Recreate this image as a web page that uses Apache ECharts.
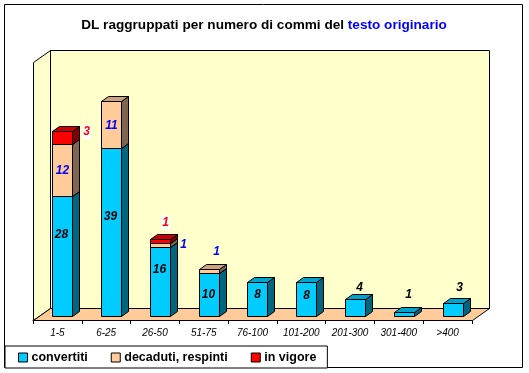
<!DOCTYPE html>
<html>
<head>
<meta charset="utf-8">
<script src="https://cdn.jsdelivr.net/npm/echarts@6/dist/echarts.min.js"></script>
<style>html,body{margin:0;padding:0;background:#fff}#chart{width:529px;height:373px}</style>
</head>
<body>
<div id="chart"></div>
<script>
// data
var categories = ['1-5', '6-25', '26-50', '51-75', '76-100', '101-200', '201-300', '301-400', '>400'];
var convertiti = [28, 39, 16, 10, 8, 8, 4, 1, 3];
var decaduti = [12, 11, 1, 1, 0, 0, 0, 0, 0];
var vigore = [3, 0, 1, 0, 0, 0, 0, 0, 0];

var myChart = echarts.init(document.getElementById('chart'));

// fake 3d: depth of the room and of each bar, in px
var roomDx = 17, roomDy = 12;
var barDx = 7, barDy = 5;
var barShiftX = 5, barShiftY = 4;

var shades = {
  convertiti: {front: '#00ccff', side: '#006680', top: '#00a3cc', label: '#000'},
  decaduti: {front: '#ffcc99', side: '#806650', top: '#cca37a', label: '#0000ff'},
  vigore: {front: '#ff0000', side: '#800000', top: '#cc0000', label: '#ff0000'}
};

// where excel left the labels, offset from the middle of the segment
var labelNudge = {
  convertiti: {0: [-1, -22], 1: [-1, -16], 2: [-1, -12], 3: [-1, 0], 4: [0, -5], 5: [0, -4], 6: [4, -20], 7: [4, -20], 8: [6, -22]},
  decaduti: {0: [0, 0], 1: [0, 1], 2: [23, -1], 3: [7, -20]},
  vigore: {0: [24, -6], 2: [5, -19]}
};

function roomItem(params, api) {
  var c = params.coordSys;
  var left = c.x + 0.5, right = c.x + c.width + 0.5, top = c.y + 0.5, bottom = c.y + c.height + 0.5;
  function poly(points, fill) {
    return {type: 'polygon', shape: {points: points}, style: {fill: fill, stroke: '#000', lineWidth: 1}};
  }
  return {
    type: 'group',
    children: [
      poly([[left + roomDx, top - roomDy], [right + roomDx, top - roomDy], [right + roomDx, bottom - roomDy], [left + roomDx, bottom - roomDy]], '#ffffcc'),
      poly([[left, top], [left + roomDx, top - roomDy], [left + roomDx, bottom - roomDy], [left, bottom]], '#ffffcc'),
      poly([[left, bottom], [left + roomDx, bottom - roomDy], [right + roomDx, bottom - roomDy], [right, bottom]], '#ffcc99')
    ]
  };
}

function makeBarItem(key) {
  var col = shades[key];
  return function (params, api) {
    var idx = api.value(0);
    var from = api.value(1), to = api.value(2);
    var low = api.coord([idx, from]);
    var high = api.coord([idx, to]);
    var w = 20;
    var x0 = Math.round(low[0] - w / 2 + barShiftX) + 0.5;
    var x1 = x0 + w;
    var yb = Math.round(low[1] - barShiftY) + 0.5;
    var yt = Math.round(high[1] - barShiftY) + 0.5;
    var kids = [
      {type: 'polygon', shape: {points: [[x1, yb], [x1 + barDx, yb - barDy], [x1 + barDx, yt - barDy], [x1, yt]]},
        style: {fill: col.side, stroke: '#000', lineWidth: 1}},
      {type: 'polygon', shape: {points: [[x0, yt], [x0 + barDx, yt - barDy], [x1 + barDx, yt - barDy], [x1, yt]]},
        style: {fill: col.top, stroke: '#000', lineWidth: 1}},
      {type: 'rect', shape: {x: x0, y: yt, width: w, height: yb - yt},
        style: {fill: col.front, stroke: '#000', lineWidth: 1}}
    ];
    var nudge = labelNudge[key][idx] || [0, 0];
    var outside = key === 'vigore';
    kids.push({
      type: 'text',
      z2: 50,
      x: (x0 + x1) / 2 + nudge[0],
      y: (yt + yb) / 2 + nudge[1],
      style: {
        text: String(to - from),
        fill: col.label,
        font: 'italic bold 12px "Liberation Sans", Arial, sans-serif',
        align: 'center',
        verticalAlign: 'middle',
        backgroundColor: outside ? '#fff' : 'transparent',
        padding: outside ? [1, 1] : 0
      }
    });
    return {type: 'group', children: kids};
  };
}

function segments(values, below) {
  var out = [];
  values.forEach(function (v, i) {
    if (v > 0) {
      var base = below.reduce(function (s, arr) { return s + arr[i]; }, 0);
      out.push([i, base, base + v]);
    }
  });
  return out;
}

var option = {
  animation: false,
  backgroundColor: '#fff',
  graphic: [{
    type: 'rect', z: -10, silent: true,
    shape: {x: 4.5, y: 4.5, width: 518, height: 363},
    style: {fill: '#fff', stroke: '#000', lineWidth: 1}
  }],
  title: {
    left: 259,
    top: 13,
    textAlign: 'center',
    text: '{a|DL raggruppati per numero di commi del }{b|testo originario}',
    textStyle: {
      rich: {
        a: {fontFamily: 'Liberation Sans', fontWeight: 'bold', fontSize: 13.6, color: '#000'},
        b: {fontFamily: 'Liberation Sans', fontWeight: 'bold', fontSize: 13.6, color: '#0000ff'}
      }
    }
  },
  legend: {
    left: 5,
    top: 346,
    padding: [5, 11, 4, 13],
    itemGap: 23,
    itemWidth: 9,
    itemHeight: 9,
    icon: 'rect',
    backgroundColor: '#fff',
    borderColor: '#000',
    borderWidth: 1,
    borderRadius: 0,
    data: ['convertiti', 'decaduti, respinti', 'in vigore'],
    itemStyle: {borderColor: '#000', borderWidth: 1},
    textStyle: {fontFamily: 'Liberation Sans', fontWeight: 'bold', fontSize: 12.5, color: '#000', padding: [0, 0, 0, -1]},
    selectedMode: false
  },
  grid: {left: 33, right: 57, top: 62, bottom: 53},
  xAxis: {
    type: 'category',
    data: categories,
    axisLine: {lineStyle: {color: '#000', width: 1}},
    axisTick: {show: true, length: 4, lineStyle: {color: '#000'}},
    axisLabel: {
      interval: 0,
      margin: 8,
      fontFamily: 'Liberation Sans',
      fontStyle: 'italic',
      fontSize: 10,
      color: '#000'
    }
  },
  yAxis: {type: 'value', min: 0, max: 60, show: false, splitLine: {show: false}},
  series: [
    {type: 'custom', name: 'room', silent: true, z: 1, data: [[0]], renderItem: roomItem, encode: {x: 0}, clip: false},
    {type: 'custom', name: 'convertiti', z: 2, itemStyle: {color: shades.convertiti.front},
      data: segments(convertiti, []), encode: {x: 0, y: [1, 2]}, renderItem: makeBarItem('convertiti'), clip: false},
    {type: 'custom', name: 'decaduti, respinti', z: 3, itemStyle: {color: shades.decaduti.front},
      data: segments(decaduti, [convertiti]), encode: {x: 0, y: [1, 2]}, renderItem: makeBarItem('decaduti'), clip: false},
    {type: 'custom', name: 'in vigore', z: 4, itemStyle: {color: shades.vigore.front},
      data: segments(vigore, [convertiti, decaduti]), encode: {x: 0, y: [1, 2]}, renderItem: makeBarItem('vigore'), clip: false}
  ]
};

myChart.setOption(option);
</script>
</body>
</html>
